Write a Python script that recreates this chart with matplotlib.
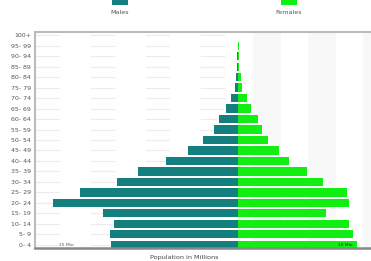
import matplotlib
matplotlib.use("Agg")
import matplotlib.pyplot as plt
from matplotlib.patches import Rectangle

age_groups = ["0- 4", "5- 9", "10- 14", "15- 19", "20- 24", "25- 29", "30- 34",
              "35- 39", "40- 44", "45- 49", "50- 54", "55- 59", "60- 64", "65- 69",
              "70- 74", "75- 79", "80- 84", "85- 89", "90- 94", "95- 99", "100+"]
males = [11.5, 11.6, 11.3, 12.3, 16.8, 14.4, 11.0, 9.1, 6.5, 4.5, 3.2, 2.2, 1.7,
         1.1, 0.6, 0.27, 0.18, 0.10, 0.05, 0.03, 0.01]
females = [10.8, 10.5, 10.1, 8.0, 10.1, 9.9, 7.7, 6.3, 4.6, 3.7, 2.7, 2.2, 1.8,
           1.2, 0.8, 0.36, 0.25, 0.14, 0.09, 0.06, 0.03]
series_names = ["Males", "Females"]
corner_labels = ["15 Mio", "10 Mio"]

male_color = "#137f7f"
female_color = "#11ee11"

W, H = 371, 261
fig = plt.figure(figsize=(W / 100, H / 100), dpi=100)
ax = fig.add_axes([35 / W, 1 - 248 / H, 1 - 35 / W, (248 - 32) / H])

ax.set_xlim(-18.45, 12.1)
ax.set_ylim(-0.3, 20.3)

y = list(range(len(age_groups)))

# background bands (faint)
k = -4
while 1.4 + 5 * k < 13:
    x0, x1 = 1.4 + 5 * k, 3.9 + 5 * k
    if x0 > 0:
        ax.axvspan(x0, x1, color="#f8f8f8", lw=0, zorder=0)
    else:
        for yy in y:
            ax.plot([x0 + 0.2, x1 - 0.2], [yy, yy], color="#ececec", lw=0.8, zorder=0)
    k += 1

ax.barh(y, [-m for m in males], height=0.78, color=male_color, lw=0, zorder=2)
ax.barh(y, females, height=0.78, color=female_color, lw=0, zorder=2)

ax.set_yticks(y)
ax.set_yticklabels(age_groups, fontsize=4.5, color="#555555")
ax.tick_params(axis="y", length=0, pad=3)
ax.set_xticks([])

for s in ["top", "left"]:
    ax.spines[s].set_color("#bbbbbb")
    ax.spines[s].set_linewidth(1.5)
ax.spines["bottom"].set_color("#888888")
ax.spines["bottom"].set_linewidth(1.8)
ax.spines["right"].set_visible(False)

ax.text(-15.6, 0, corner_labels[0], fontsize=3.2, color="#555555", ha="center", va="center", zorder=3)
ax.text(9.8, 0, corner_labels[1], fontsize=3.2, color="#222222", ha="center", va="center", zorder=3)

fig.text(150 / W, 1 - 257 / H, "Population in Millions", fontsize=4.6, color="#444444",
         ha="left", va="center")

# legend
fig.patches.append(Rectangle((112 / W, 1 - 5 / H), 16 / W, 8 / H, transform=fig.transFigure,
                             color=male_color, lw=0))
fig.patches.append(Rectangle((281 / W, 1 - 5 / H), 16 / W, 8 / H, transform=fig.transFigure,
                             color=female_color, lw=0))
fig.text(120 / W, 1 - 13 / H, series_names[0], fontsize=4.6, color="#555555", ha="center", va="center")
fig.text(289 / W, 1 - 13 / H, series_names[1], fontsize=4.6, color="#555555", ha="center", va="center")

fig.savefig("out.png", dpi=100)
